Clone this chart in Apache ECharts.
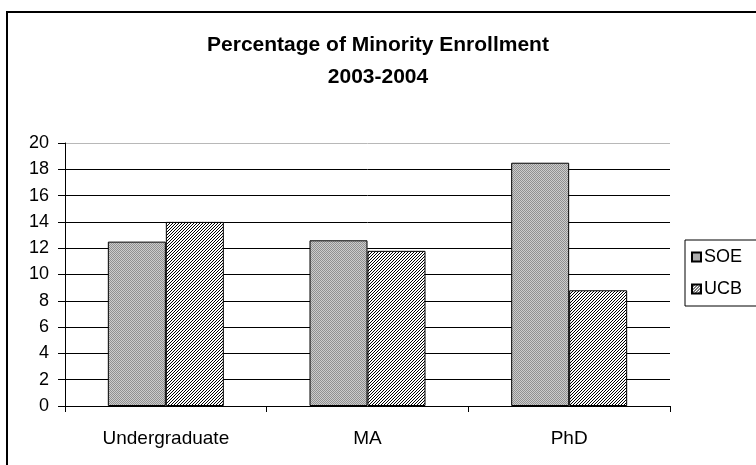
<!DOCTYPE html>
<html>
<head>
<meta charset="utf-8">
<script src="https://cdn.jsdelivr.net/npm/echarts@6/dist/echarts.min.js"></script>
<style>html,body{margin:0;padding:0;background:#fff}#c{width:756px;height:465px}</style>
</head>
<body>
<div id="c"></div>
<script>
const categories = ['Undergraduate', 'MA', 'PhD'];
const seriesNames = ['SOE', 'UCB'];
const soeValues = [12.5, 12.6, 18.5];
const ucbValues = [14.0, 11.8, 8.8];
const yMin = 0, yMax = 20, yInterval = 2;
const titleText = 'Percentage of Minority Enrollment\n2003-2004';

function dotPattern() {
  const c = document.createElement('canvas');
  c.width = 2; c.height = 2;
  const g = c.getContext('2d');
  g.fillStyle = '#cccccc'; g.fillRect(0, 0, 2, 2);
  g.fillStyle = '#909090'; g.fillRect(0, 0, 1, 1); g.fillRect(1, 1, 1, 1);
  return { image: c, repeat: 'repeat' };
}
function hatchPattern() {
  const c = document.createElement('canvas');
  c.width = 3; c.height = 3;
  const g = c.getContext('2d');
  g.fillStyle = '#ffffff'; g.fillRect(0, 0, 3, 3);
  g.fillStyle = '#000000';
  for (let i = 0; i < 3; i++) g.fillRect(2 - i, i, 1, 1);
  return { image: c, repeat: 'repeat' };
}

const font = 'Liberation Sans, Arial, sans-serif';
const gridColors = [];
for (let v = yMin; v <= yMax; v += yInterval) gridColors.push(v === yMax ? '#b8b8b8' : '#000');

const chart = echarts.init(document.getElementById('c'), null, { renderer: 'canvas' });
chart.setOption({
  backgroundColor: '#fff',
  animation: false,
  title: {
    text: titleText,
    left: 'center',
    top: 29,
    padding: 0,
    textStyle: { fontFamily: font, fontSize: 21, fontWeight: 'bold', color: '#000', lineHeight: 32 }
  },
  legend: {
    orient: 'vertical',
    left: 685,
    top: 240,
    padding: [8, 40, 8, 6],
    borderColor: '#000',
    borderWidth: 1,
    backgroundColor: '#fff',
    itemWidth: 9,
    itemHeight: 9,
    itemGap: 14,
    icon: 'rect',
    textStyle: { fontFamily: font, fontSize: 18, color: '#000', padding: [0, 0, 0, -2] },
    data: seriesNames
  },
  grid: { left: 65, right: 86, top: 143, bottom: 59, containLabel: false },
  xAxis: {
    type: 'category',
    data: categories,
    axisLine: { lineStyle: { color: '#000', width: 1 } },
    axisTick: { show: true, length: 6, lineStyle: { color: '#000' } },
    axisLabel: { fontFamily: font, fontSize: 19, color: '#000', margin: 23 },
    splitLine: { show: false }
  },
  yAxis: {
    type: 'value',
    min: yMin, max: yMax, interval: yInterval,
    axisLine: { show: true, lineStyle: { color: '#000', width: 1 } },
    axisTick: { show: true, length: 7, lineStyle: { color: '#000' } },
    axisLabel: { fontFamily: font, fontSize: 18, color: '#000', margin: 16 },
    splitLine: { show: true, lineStyle: { color: gridColors, width: 1 } }
  },
  series: [
    {
      name: seriesNames[0], type: 'bar', data: soeValues,
      barWidth: 58, barGap: '0%',
      itemStyle: { color: dotPattern(), borderColor: '#000', borderWidth: 1 }
    },
    {
      name: seriesNames[1], type: 'bar', data: ucbValues,
      barWidth: 58, barGap: '0%',
      itemStyle: { color: hatchPattern(), borderColor: '#000', borderWidth: 1 }
    }
  ],
  graphic: [{
    type: 'rect',
    shape: { x: 7, y: 12, width: 800, height: 500 },
    style: { fill: null, stroke: '#000', lineWidth: 2 },
    silent: true, z: 100
  }]
});
</script>
</body>
</html>
